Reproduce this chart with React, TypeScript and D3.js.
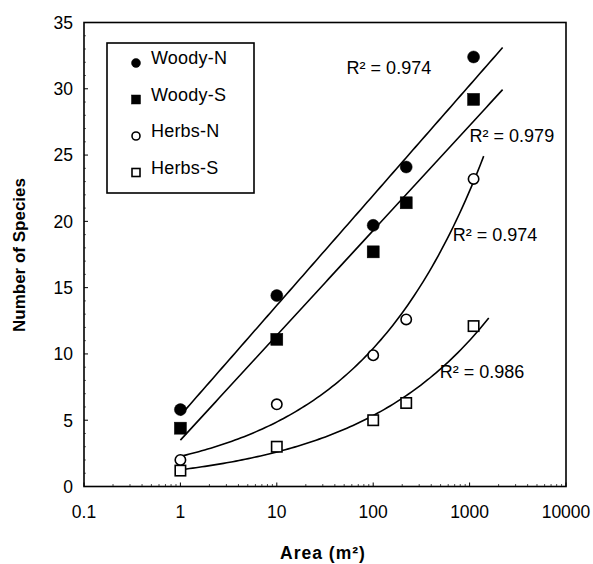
import React from "react";
import { scaleLog, scaleLinear, line, range, mean, sum } from "d3";

// plot areas (m2) sampled
const areas = [1, 10, 100, 220, 1100];

const woodyN = [5.8, 14.4, 19.7, 24.1, 32.4];
const woodyS = [4.4, 11.1, 17.7, 21.4, 29.2];
const herbsN = [2.0, 6.2, 9.9, 12.6, 23.2];
const herbsS = [1.2, 3.0, 5.0, 6.3, 12.1];

const seriesNames = ["Woody-N", "Woody-S", "Herbs-N", "Herbs-S"];
const trendKinds = ["log", "log", "power", "power"];
const trendEnds = [2200, 2200, 1400, 1580];
const r2Labels = ["R² = 0.974", "R² = 0.979", "R² = 0.974", "R² = 0.986"];
// where each R² label sits (area, species)
const r2Area = [53, 1000, 670, 490];
const r2Value = [31.6, 26.5, 19.0, 8.7];

const xTicks = [0.1, 1, 10, 100, 1000, 10000];
const yTicks = [0, 5, 10, 15, 20, 25, 30, 35];

const W = 593;
const H = 564;
const x = scaleLog().domain([0.1, 10000]).range([84, 566]);
const y = scaleLinear().domain([0, 35]).range([486.5, 22.5]);

// least squares fit like the spreadsheet trendlines
function fit(kind: string, xs: number[], ys: number[]) {
  const lx = xs.map(Math.log);
  const ly = kind === "power" ? ys.map(Math.log) : ys;
  const mx = mean(lx) as number;
  const my = mean(ly) as number;
  const sxy = sum(lx, (v, i) => (v - mx) * (ly[i] - my));
  const sxx = sum(lx, (v) => (v - mx) * (v - mx));
  const b = sxy / sxx;
  const a = my - b * mx;
  return kind === "power"
    ? (t: number) => Math.exp(a) * Math.pow(t, b)
    : (t: number) => a + b * Math.log(t);
}

const seriesValues = [woodyN, woodyS, herbsN, herbsS];

function Marker({ i, cx, cy, s }: { i: number; cx: number; cy: number; s: number }) {
  const filled = i < 2;
  const fill = filled ? "#000" : "#fff";
  const stroke = "#000";
  if (i % 2 === 0) {
    return <circle cx={cx} cy={cy} r={s} fill={fill} stroke={stroke} strokeWidth={filled ? 0.5 : 1.6} />;
  }
  return (
    <rect x={cx - s} y={cy - s} width={2 * s} height={2 * s} fill={fill} stroke={stroke} strokeWidth={filled ? 0.5 : 1.6} />
  );
}

export default function App() {
  const minor: number[] = [];
  for (const d of [0.1, 1, 10, 100, 1000]) {
    for (const m of range(2, 10)) minor.push(d * m);
  }
  const yMinor = range(1, 35).filter((v) => v % 5 !== 0);

  const lines = seriesValues.map((vals, i) => {
    const f = fit(trendKinds[i], areas, vals);
    const pts = range(0, 101).map((k) => {
      const t = Math.pow(10, (Math.log10(trendEnds[i]) * k) / 100);
      return [t, f(t)] as [number, number];
    });
    return line<[number, number]>()
      .x((d) => x(d[0]))
      .y((d) => y(d[1]))(pts) as string;
  });

  const font = "Arial, 'Liberation Sans', Helvetica, sans-serif";

  return (
    <div style={{ position: "absolute", left: 0, top: 0 }}>
      <svg width={W} height={H} style={{ display: "block", background: "#fff" }} fontFamily={font}>
        {/* frame */}
        <rect x={x(0.1)} y={y(35)} width={x(10000) - x(0.1)} height={y(0) - y(35)} fill="none" stroke="#000" strokeWidth={1.6} />

        {/* y ticks */}
        {yTicks.map((t) => (
          <g key={"y" + t}>
            <line x1={x(0.1)} x2={x(0.1) + 4} y1={y(t)} y2={y(t)} stroke="#000" strokeWidth={1} />
            <text x={73} y={y(t)} dy="0.36em" textAnchor="end" fontSize={17.5}>
              {t}
            </text>
          </g>
        ))}
        {yMinor.map((t) => (
          <line key={"ym" + t} x1={x(0.1)} x2={x(0.1) + 2} y1={y(t)} y2={y(t)} stroke="#000" strokeWidth={0.6} />
        ))}

        {/* x ticks */}
        {xTicks.map((t) => (
          <g key={"x" + t}>
            <line x1={x(t)} x2={x(t)} y1={y(0)} y2={y(0) - 4} stroke="#000" strokeWidth={1} />
            <text x={x(t)} y={518} textAnchor="middle" fontSize={17.5}>
              {t}
            </text>
          </g>
        ))}
        {minor.map((t, k) => (
          <line key={"xm" + k} x1={x(t)} x2={x(t)} y1={y(0)} y2={y(0) - 2.5} stroke="#000" strokeWidth={0.7} />
        ))}

        {/* trendlines */}
        {lines.map((d, i) => (
          <path key={"l" + i} d={d} fill="none" stroke="#000" strokeWidth={1.6} />
        ))}

        {/* points */}
        {seriesValues.map((vals, i) =>
          vals.map((v, j) => (
            <Marker key={i + "-" + j} i={i} cx={x(areas[j])} cy={y(v)} s={i < 2 ? 6 : 5.2} />
          ))
        )}

        {/* R2 labels */}
        {r2Labels.map((s, i) => (
          <text key={"r" + i} x={x(r2Area[i])} y={y(r2Value[i])} dy="0.36em" fontSize={18} fill="#000">
            {s}
          </text>
        ))}

        {/* legend */}
        <rect x={107} y={43} width={147} height={150} fill="#fff" stroke="#000" strokeWidth={1.6} />
        {seriesNames.map((n, i) => (
          <g key={"lg" + i}>
            <Marker i={i} cx={136} cy={63 + i * 36.5} s={i < 2 ? 4.5 : 4} />
            <text x={151} y={58 + i * 36.5} dy="0.36em" fontSize={18} letterSpacing={0.2}>
              {n}
            </text>
          </g>
        ))}

        {/* axis titles */}
        <text
          transform={`translate(25,255) rotate(-90)`}
          textAnchor="middle"
          fontSize={17}
          fontWeight="bold"
        >
          Number of Species
        </text>
        <text x={323} y={553} dy="0.36em" textAnchor="middle" fontSize={17.5} fontWeight="bold" letterSpacing={1}>
          Area (m²)
        </text>
      </svg>
    </div>
  );
}
